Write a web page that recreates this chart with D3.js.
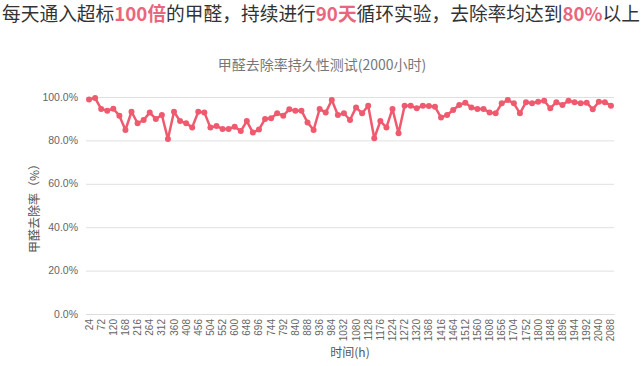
<!DOCTYPE html>
<html><head><meta charset="utf-8">
<script src="https://cdn.jsdelivr.net/npm/d3@7/dist/d3.min.js"></script>
<style>
body{margin:0;background:#fff;}
svg text{font-family:"Liberation Sans","Noto Sans CJK SC",sans-serif;}
</style></head>
<body><svg id="c" width="643" height="366"></svg>
<script>
const hours = [24,48,72,96,120,144,168,192,216,240,264,288,312,336,360,384,408,432,456,480,504,528,552,576,600,624,648,672,696,720,744,768,792,816,840,864,888,912,936,960,984,1008,1032,1056,1080,1104,1128,1152,1176,1200,1224,1248,1272,1296,1320,1344,1368,1392,1416,1440,1464,1488,1512,1536,1560,1584,1608,1632,1656,1680,1704,1728,1752,1776,1800,1824,1848,1872,1896,1920,1944,1968,1992,2016,2040,2064,2088];
const removalRate = [98.8,99.5,94.5,93.7,94.6,91.4,84.8,93.2,87.9,89.4,92.8,89.9,91.7,80.6,93.2,88.9,87.9,86.0,93.2,92.9,85.9,86.6,85.3,85.3,86.3,84.3,88.9,83.6,85.0,89.9,90.2,92.5,91.4,94.3,93.7,93.7,88.3,84.8,94.5,92.8,98.6,91.7,92.5,89.4,95.2,92.5,96.0,81.0,88.9,86.0,94.5,83.3,96.0,96.0,94.8,96.0,95.8,95.5,90.6,91.7,94.0,96.3,97.4,95.2,94.5,94.5,92.8,92.5,97.1,98.6,97.1,92.5,97.6,97.1,97.8,98.3,94.8,97.6,96.3,98.3,97.6,97.1,97.4,94.3,97.8,97.6,96.0];
const yTicks = [0,20,40,60,80,100];
const headlineParts = [
  {t:"每天通入超标",hl:false},{t:"100倍",hl:true},{t:"的甲醛，持续进行",hl:false},
  {t:"90天",hl:true},{t:"循环实验，去除率均达到",hl:false},{t:"80%",hl:true},{t:"以上",hl:false}
];
const chartTitle = "甲醛去除率持久性测试(2000小时)";
const yTitle = "甲醛去除率（%）";
const xTitle = "时间(h)";

const svg = d3.select("#c");
const L=86, R=614, T=97, B=314;
const x = d3.scaleBand().domain(hours).range([L,R]);
const y = d3.scaleLinear().domain([0,100]).range([B,T]);
const color = "#ef5a6f";

// headline
const hl = svg.append("text").attr("x",2).attr("y",21).attr("font-size",19)
  .attr("fill","#333").style("font-family",'"Noto Sans CJK SC",sans-serif');
headlineParts.forEach(p=>{
  hl.append("tspan").text(p.t).attr("fill",p.hl?"#e9667c":"#333")
    .attr("font-weight",p.hl?"bold":"normal");
});
const w = hl.node().getComputedTextLength();
hl.attr("textLength",638).attr("lengthAdjust","spacingAndGlyphs");

// chart title
svg.append("text").attr("x",322).attr("y",70).attr("text-anchor","middle")
  .attr("font-size",14).attr("fill","#777")
  .style("font-family",'"Noto Sans CJK SC",sans-serif').text(chartTitle);

// grid
svg.append("g").selectAll("line").data(yTicks).join("line")
  .attr("x1",L).attr("x2",R).attr("y1",d=>y(d)+0.5).attr("y2",d=>y(d)+0.5)
  .attr("stroke","#e0e0e0").attr("stroke-width",1);

// y labels
svg.append("g").selectAll("text").data(yTicks).join("text")
  .attr("x",78).attr("y",d=>y(d)).attr("dy","0.35em").attr("text-anchor","end")
  .attr("font-size",10.5).attr("fill","#666").text(d=>d.toFixed(1)+"%");

// x axis
const xa = d3.axisBottom(x).tickSize(0).tickPadding(0)
  .tickValues(hours.filter((d,i)=>i%2===0));
const gx = svg.append("g").attr("transform",`translate(0,${B})`).call(xa);
gx.select(".domain").attr("stroke","#ddd");
gx.selectAll("text").attr("font-size",10).attr("fill","#666")
  .attr("transform","rotate(-90)").attr("text-anchor","end")
  .attr("x",-5).attr("y",0).attr("dy","0.35em")
  .style("font-family",'"Liberation Sans",sans-serif');

// axis titles
svg.append("text").attr("transform",`translate(39,${(T+B)/2}) rotate(-90)`)
  .attr("text-anchor","middle").attr("font-size",12).attr("fill","#555")
  .style("font-family",'"Noto Sans CJK SC",sans-serif').text(yTitle);
svg.append("text").attr("x",(L+R)/2).attr("y",357).attr("text-anchor","middle")
  .attr("font-size",12).attr("fill","#555")
  .style("font-family",'"Noto Sans CJK SC",sans-serif').text(xTitle);

// line
const cx = d=>x(d)+x.bandwidth()/2;
const line = d3.line().x((d,i)=>cx(hours[i])).y(d=>y(d));
svg.append("path").datum(removalRate).attr("d",line).attr("fill","none")
  .attr("stroke",color).attr("stroke-width",2.5).attr("stroke-linejoin","round");
svg.append("g").selectAll("circle").data(removalRate).join("circle")
  .attr("cx",(d,i)=>cx(hours[i])).attr("cy",d=>y(d)).attr("r",3).attr("fill",color);
</script></body></html>
